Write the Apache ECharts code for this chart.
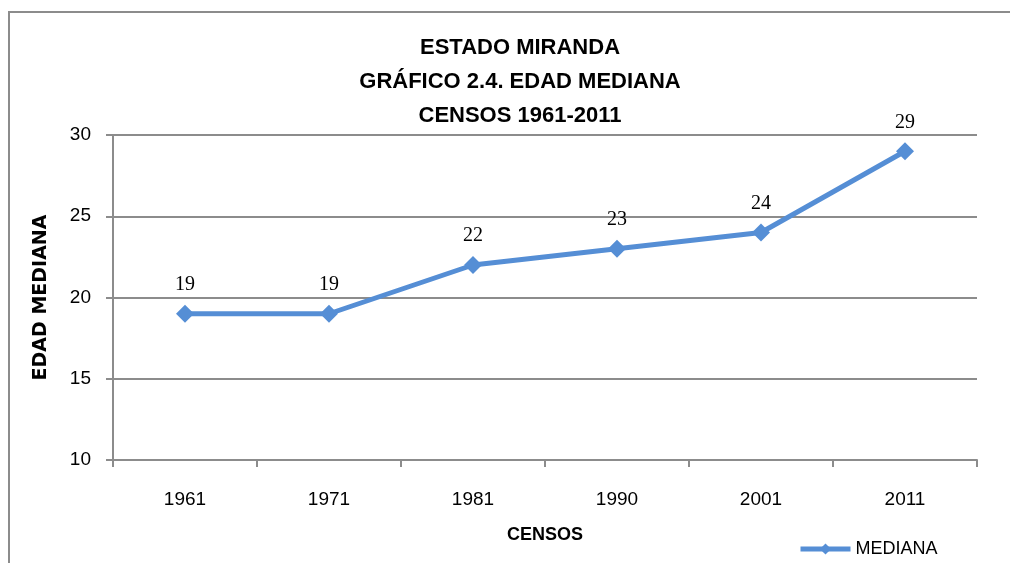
<!DOCTYPE html>
<html><head><meta charset="utf-8">
<script src="https://cdn.jsdelivr.net/npm/echarts@6/dist/echarts.min.js"></script>
<style>html,body{margin:0;padding:0;background:#fff}#c{width:1010px;height:563px}</style>
</head><body><div id="c"></div>
<script>
var categories = ['1961','1971','1981','1990','2001','2011'];
var mediana = [19, 19, 22, 23, 24, 29];
var yTicks = {min: 10, max: 30, interval: 5};
var titleLines = ['ESTADO MIRANDA', 'GRÁFICO 2.4. EDAD MEDIANA', 'CENSOS 1961-2011'];

var sans = '"Liberation Sans Narrow", "Liberation Sans", sans-serif';
var chart = echarts.init(document.getElementById('c'));
chart.setOption({
  animation: false,
  backgroundColor: '#fff',
  graphic: [{
    type: 'rect', shape: {x: 9, y: 12, width: 1010, height: 600},
    style: {fill: 'none', stroke: '#8c8c8c', lineWidth: 2}, silent: true
  }],
  title: {
    text: titleLines.join('\n'),
    left: 515, top: 26, textAlign: 'center',
    textStyle: {fontFamily: sans, fontWeight: 'bold', fontSize: 22, lineHeight: 34, color: '#000'}
  },
  grid: {left: 113, right: 33, top: 135, bottom: 103},
  legend: {
    left: 793, top: 535, itemWidth: 50, itemHeight: 14, itemGap: 4,
    textStyle: {fontFamily: sans, fontSize: 18, color: '#000'},
    lineStyle: {width: 5},
    data: ['MEDIANA']
  },
  xAxis: {
    type: 'category', data: categories, boundaryGap: true,
    name: 'CENSOS', nameLocation: 'middle', nameGap: 66,
    nameTextStyle: {fontFamily: sans, fontWeight: 'bold', fontSize: 18, color: '#000'},
    axisLine: {lineStyle: {color: '#8c8c8c', width: 2}},
    axisTick: {show: true, interval: 0, length: 7, lineStyle: {color: '#8c8c8c', width: 2}},
    axisLabel: {fontFamily: sans, fontSize: 19, color: '#000', margin: 30}
  },
  yAxis: {
    type: 'value', min: yTicks.min, max: yTicks.max, interval: yTicks.interval,
    name: 'EDAD MEDIANA', nameLocation: 'middle', nameGap: 62, nameRotate: 90,
    nameTextStyle: {fontFamily: '"DejaVu Sans", sans-serif', fontWeight: 'bold', fontSize: 19, color: '#000'},
    axisLine: {show: true, lineStyle: {color: '#8c8c8c', width: 2}},
    axisTick: {show: true, length: 7, lineStyle: {color: '#8c8c8c', width: 2}},
    splitLine: {lineStyle: {color: '#8c8c8c', width: 2}},
    axisLabel: {fontFamily: sans, fontSize: 19, color: '#000', margin: 22}
  },
  series: [{
    name: 'MEDIANA', type: 'line', data: mediana,
    symbol: 'diamond', symbolSize: 18,
    lineStyle: {color: '#558ed5', width: 5},
    itemStyle: {color: '#558ed5'},
    label: {show: true, position: 'top', distance: 10,
      fontFamily: '"Liberation Serif", serif', fontSize: 20, color: '#000'}
  }]
});
</script></body></html>
